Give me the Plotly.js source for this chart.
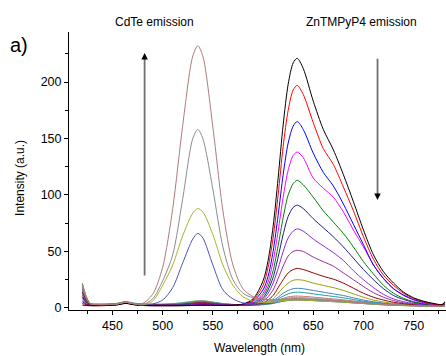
<!DOCTYPE html>
<html><head><meta charset="utf-8">
<script src="https://cdn.plot.ly/plotly-3.0.1.min.js"></script>
<style>html,body{margin:0;padding:0;background:#fff}#chart{width:446px;height:356px}</style>
</head><body><div id="chart"></div>
<script>
// Wavelength grid (nm)
const wavelength = [420,424,428,435,445,455,463,472,480,490,500,510,520,530,535,540,550,560,570,580,590,600,605,610,615,620,625,630,634,640,650,660,670,680,690,700,710,720,730,740,750,760,770,778,781];

// ZnTMPyP4 emission series (decreasing)
const znBlack   = [2.5,2.2,2,2,2.2,2.8,4,2.8,2.2,2,2,2,2,2.2,2.3,2.4,2.3,2.2,2.4,3.5, 8,24,42,72,115,162,198,217,221,212, 183,158,140,118,94,69,47,32,22,14,9,6,4,3,5];
const znRed     = [4,2.8,2.2,2,2.2,2.8,4.2,2.8,2.2,2,2,2,2.1,2.3,2.4,2.5,2.4,2.2,2.4,3.3, 7,20,36,62,100,143,175,193,197,189, 164,141,127,107,86,63,43,29,20,13,8.5,5.5,3.5,2.8,4.5];
const znBlue    = [5.5,3.2,2.4,2.2,2.3,3,4.3,3,2.3,2.1,2.1,2.1,2.2,2.5,2.7,2.8,2.6,2.3,2.4,3.2, 6,16,28,50,82,118,146,161,165,158, 137,120,108,92,74,56,38,26,17,11.5,7.5,5,3.5,2.5,4];
const znMagenta = [7,3.8,2.6,2.3,2.4,3,4.4,3,2.4,2.2,2.2,2.2,2.3,2.7,3,3.1,2.8,2.4,2.4,3, 5,13,23,41,68,98,122,135,138,133, 115,106,98,85,69,54,38,26,17,11,7,4.5,3,2.5,3.5];
const znGreen   = [8.5,4.3,2.8,2.4,2.5,3.1,4.5,3.1,2.5,2.3,2.3,2.3,2.5,3,3.3,3.4,3,2.5,2.5,3, 4.5,11,19,33,55,80,100,110,113,109, 98,86,76,66,54,41,30,20,13,8.5,5.5,3.8,2.8,2.3,3.5];
const znNavy    = [10,4.8,3,2.5,2.6,3.2,4.6,3.2,2.6,2.4,2.4,2.4,2.7,3.3,3.6,3.7,3.2,2.6,2.5,2.8, 4,9,16,27,45,65,81,89,91,88, 79,71,63,54,44,34,25,17,11,7.5,5,3.5,2.6,2.2,3];
const znViolet  = [11.5,5.3,3.1,2.6,2.7,3.3,4.7,3.3,2.7,2.5,2.5,2.6,2.9,3.6,4,4.1,3.5,2.8,2.5,2.7, 3.5,7.5,13,22,35,50,62,68,70,68, 61,55,49,42,33,25,18,12,8,5.5,4,3,2.3,2,2.8];
const znPurple  = [13,5.8,3.2,2.7,2.8,3.4,4.8,3.4,2.8,2.6,2.6,2.7,3.1,3.9,4.3,4.4,3.8,3,2.6,2.6, 3,6,10,16,26,37,46,50,51,50, 45,41,37,31,25,19,13.5,9.5,6.5,4.5,3.5,2.7,2.2,1.9,2.5];
const znWine    = [14,6.3,3.3,2.8,2.9,3.5,4.9,3.5,2.9,2.7,2.7,2.9,3.3,4.2,4.6,4.7,4,3.1,2.6,2.5, 2.8,4.5,7,11,18,25,31,34,35,34, 31,28,25.5,22,17.5,13,9.5,7,5,3.8,3,2.4,2,1.8,2.3];
const znOlive   = [15,6.8,3.4,2.9,3,3.6,5,3.6,3,2.8,2.8,3,3.5,4.5,4.9,5,4.2,3.2,2.7,2.5, 2.6,4,5.5,8,13,18,22,24.5,25,24.5, 22,20,18,15.5,12.5,9.5,7,5.3,4,3.2,2.6,2.2,1.9,1.7,2.2];
const znSteel   = [16,7.3,3.5,3,3.1,3.7,5.1,3.7,3.1,2.9,2.9,3.2,3.8,4.8,5.3,5.4,4.5,3.4,2.8,2.5, 2.5,3.5,4.5,6.5,9.5,13,15.5,17,17.4,17, 15.5,14,12.5,11,9,7,5.5,4.3,3.5,2.8,2.4,2,1.8,1.6,2];
const znTeal    = [17,7.8,3.6,3.1,3.2,3.8,5.2,3.8,3.2,3,3,3.4,4,5.1,5.6,5.7,4.7,3.5,2.9,2.5, 2.5,3.2,4,5.5,8,10.5,12.5,13.7,14,13.7, 12.5,11.3,10.2,9,7.5,6,4.8,3.8,3.1,2.6,2.2,1.9,1.7,1.5,1.9];
const znRosy    = [18,8.3,3.7,3.2,3.3,3.9,5.3,3.9,3.3,3.1,3.1,3.5,4.2,5.3,5.8,5.9,4.9,3.6,3,2.6, 2.6,3.2,3.8,5,6.8,8.5,9.8,10.4,10.5,10.3, 9.6,8.8,8,7.2,6.2,5.2,4.3,3.5,2.9,2.5,2.1,1.8,1.6,1.5,3];
const znGray    = [19,8.8,3.8,3.3,3.4,4,5.4,4,3.4,3.2,3.2,3.6,4.4,5.5,6,6.1,5,3.7,3,2.6, 2.6,3.1,3.6,4.6,6.2,7.7,8.8,9.2,9.3,9.1, 8.5,7.9,7.2,6.5,5.6,4.8,4,3.3,2.8,2.4,2.1,1.8,1.6,1.5,6];
const znLime    = [20,9.3,3.9,3.4,3.5,4.1,5.5,4.1,3.5,3.3,3.3,3.7,4.6,5.7,6.2,6.3,5.1,3.8,3.1,2.7, 2.6,3,3.4,4.2,5.6,6.9,7.8,8.2,8.3,8.2, 7.7,7.1,6.5,5.9,5.1,4.4,3.7,3.1,2.6,2.3,2,1.8,1.6,1.5,2];
const znCyan    = [21,9.8,4,3.5,3.6,4.2,5.6,4.2,3.6,3.4,3.4,3.8,4.8,5.9,6.4,6.5,5.2,3.9,3.2,2.8, 2.6,2.9,3.2,3.9,5,6.1,6.9,7.2,7.3,7.2, 6.8,6.3,5.8,5.3,4.6,4,3.4,2.9,2.5,2.2,1.9,1.7,1.5,1.4,1.9];

// CdTe emission series (increasing)
const cdSlate   = [20,9,3.6,3,3,3.6,5,3.6,2.8, 3.5,7,18,40,61,66,62,38,16,8,4.5, 3.5,3.5,3.8,4.3,5.2,6,6.6,6.9,7,6.9, 6.5,6,5.6,5.1,4.5,3.9,3.3,2.8,2.4,2.1,1.9,1.7,1.5,1.4,1.8];
const cdOlive   = [19.5,9,3.6,3,3,3.6,5,3.6,2.8, 6,20,38,64,84,88,85,65,38,20,10, 6,5,5,5.2,5.8,6.4,6.8,7,7,6.9, 6.5,6,5.6,5.1,4.5,3.9,3.3,2.8,2.4,2.1,1.9,1.7,1.5,1.4,1.8];
const cdGray    = [21,9.5,3.7,3,3,3.6,5,3.6,3, 8,24,47,97,150,158,150,105,54,25,13, 9,7.5,7,7,7.2,7.5,7.8,8,8,7.9, 7.5,7,6.5,5.9,5.2,4.5,3.8,3.2,2.7,2.3,2,1.8,1.6,1.5,2];
const cdBrown   = [22,10,3.8,3.1,3.1,3.7,5.1,3.7,4, 12,36,88,162,223,232,223,160,86,38,17, 10,8,7.5,7.4,7.5,7.8,8,8.2,8.2,8.1, 7.7,7.2,6.7,6,5.3,4.6,3.9,3.3,2.8,2.4,2.1,1.9,1.7,1.6,2];

const seriesList = [
  [znCyan,'#3cc6c6'],[znLime,'#7cc05a'],[znGray,'#9a9a9a'],[znRosy,'#b87878'],
  [znTeal,'#1f9a9a'],[znSteel,'#3f7fc0'],[znOlive,'#9a9a00'],[znWine,'#8b0000'],
  [znPurple,'#952b95'],[znViolet,'#8a2be2'],[znNavy,'#1a1a80'],[znGreen,'#008000'],
  [znMagenta,'#ff00ff'],[znBlue,'#0000ff'],[znRed,'#ff0000'],[znBlack,'#000000'],
  [cdSlate,'#4a55b5'],[cdOlive,'#a8b428'],[cdGray,'#8c8c8c'],[cdBrown,'#b07b7b']
];

const traces = seriesList.map(([vals,color]) => ({
  type:'scatter', mode:'lines', x: wavelength, y: vals,
  line:{color:color, width:1, shape:'spline', smoothing:0.8},
  hoverinfo:'skip'
}));

const FONT = 'Liberation Sans, Arial, sans-serif';
// arrow shaft (gray) + small black head
function arrow(x, yHead, yTail){
  const dir = yHead > yTail ? -1 : 1;
  return [
    {text:'', xref:'x', yref:'y', axref:'x', ayref:'y', x:x, y:yHead + dir*5, ax:x, ay:yTail, showarrow:true, arrowhead:0, arrowwidth:1.8, arrowcolor:'#707070'},
    {text:'', xref:'x', yref:'y', axref:'x', ayref:'y', x:x, y:yHead, ax:x, ay:yHead + dir*7, showarrow:true, arrowhead:2, arrowsize:1.3, arrowwidth:1, arrowcolor:'#000000'}
  ];
}
const layout = {
  width:446, height:356,
  margin:{l:69, r:0, t:32, b:46, pad:0},
  paper_bgcolor:'#ffffff', plot_bgcolor:'#ffffff',
  showlegend:false,
  font:{family:FONT, size:12, color:'#000'},
  xaxis:{range:[406.7,782.2], tick0:0, dtick:50, ticks:'outside', ticklen:4, tickwidth:1, tickcolor:'#000',
         showline:true, linecolor:'#000', linewidth:1, showgrid:false, zeroline:false,
         tickfont:{family:FONT, size:12.5, color:'#000'},
         minor:{tick0:0, dtick:25, ticks:'outside', ticklen:3, tickwidth:1, tickcolor:'#000', showgrid:false}},
  yaxis:{range:[-1.8,244.25], tick0:0, dtick:50, ticks:'outside', ticklen:4, tickwidth:1, tickcolor:'#000',
         showline:true, linecolor:'#000', linewidth:1, showgrid:false, zeroline:false,
         tickfont:{family:FONT, size:12.5, color:'#000'},
         minor:{tick0:0, dtick:25, ticks:'outside', ticklen:3, tickwidth:1, tickcolor:'#000', showgrid:false}},
  annotations:[
    {text:'CdTe emission', xref:'paper', yref:'paper', x:0.228, y:1.036, showarrow:false, font:{family:FONT,size:12}, xanchor:'center', yanchor:'middle'},
    {text:'ZnTMPyP4 emission', xref:'paper', yref:'paper', x:0.776, y:1.036, showarrow:false, font:{family:FONT,size:12}, xanchor:'center', yanchor:'middle'},
    {text:'a)', xref:'paper', yref:'paper', x:-0.1326, y:0.955, showarrow:false, font:{family:FONT,size:20}, xanchor:'center', yanchor:'middle'},
    {text:'Intensity (a.u.)', xref:'paper', yref:'paper', x:-0.13, y:0.475, textangle:-90, showarrow:false, font:{family:FONT,size:12}, xanchor:'center', yanchor:'middle'},
    {text:'Wavelength (nm)', xref:'paper', yref:'paper', x:0.504, y:-0.1367, showarrow:false, font:{family:FONT,size:12}, xanchor:'center', yanchor:'middle'}
  ].concat(arrow(482, 225.7, 27.4), arrow(714, 95.6, 222))
};

Plotly.newPlot('chart', traces, layout, {displayModeBar:false, staticPlot:true});
</script>
</body></html>
